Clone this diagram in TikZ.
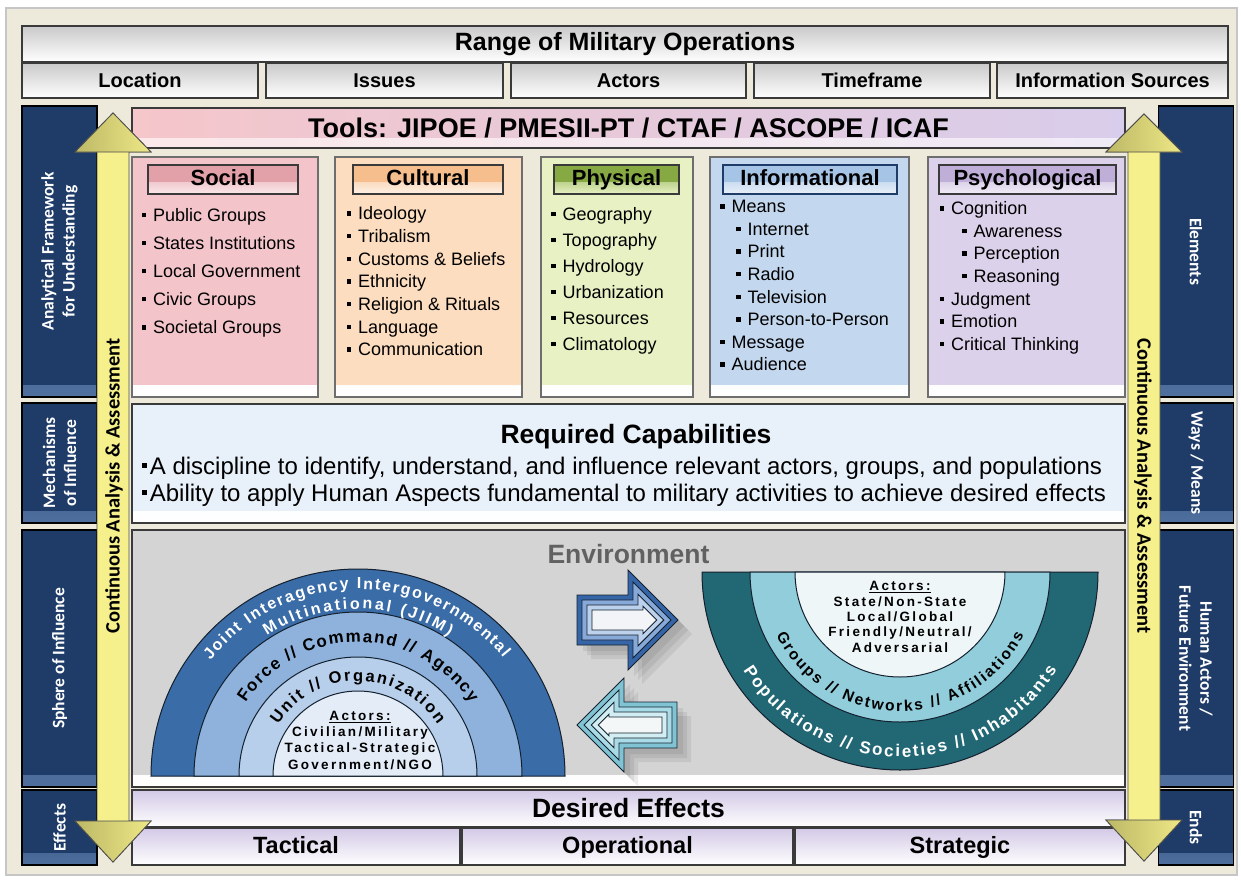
\documentclass[tikz,border=0pt]{standalone}
\usepackage{fontspec}
\setmainfont{Liberation Sans}
\newfontfamily\sidefont{Carlito}
\newfontfamily\actfont{Liberation Sans}[LetterSpace=17]
\usetikzlibrary{decorations.text}

\definecolor{beige}{HTML}{EDEADB}
\definecolor{edge}{HTML}{3A3A3A}
\definecolor{boxedge}{HTML}{6E6E6E}
\definecolor{navy}{HTML}{1F3C69}
\definecolor{navyhi}{HTML}{4F709F}
\definecolor{socfill}{HTML}{F3C5CA}
\definecolor{sochead}{HTML}{E2A1A9}
\definecolor{culfill}{HTML}{FCDDC0}
\definecolor{culhead}{HTML}{F6BE8C}
\definecolor{phyfill}{HTML}{E7F1C3}
\definecolor{phyhead}{HTML}{86A944}
\definecolor{inffill}{HTML}{C3D7EE}
\definecolor{infhead}{HTML}{A6C4E6}
\definecolor{psyfill}{HTML}{DCD1EA}
\definecolor{psyhead}{HTML}{BFAED8}
\definecolor{capfill}{HTML}{E8F0F9}
\definecolor{envfill}{HTML}{D4D4D4}
\definecolor{lavtop}{HTML}{D3C9E6}
\definecolor{toolL}{HTML}{F5C6CA}
\definecolor{toolR}{HTML}{D8CDEB}
\definecolor{yel}{HTML}{F6F08C}
\definecolor{yeldark}{HTML}{BDB866}
\definecolor{jiimA}{HTML}{3A6CA8}
\definecolor{jiimB}{HTML}{8EB2DC}
\definecolor{jiimC}{HTML}{B7CFEA}
\definecolor{jiimD}{HTML}{E4EDF7}
\definecolor{popA}{HTML}{216774}
\definecolor{popB}{HTML}{92CDDB}
\definecolor{popC}{HTML}{EEF6F8}
\definecolor{ringline}{HTML}{14202E}
\definecolor{rarA}{HTML}{3565A6}
\definecolor{rarB}{HTML}{86A9D8}
\definecolor{rarC}{HTML}{BCD1EC}
\definecolor{rarD}{HTML}{F2F4F7}
\definecolor{larA}{HTML}{80C4D4}
\definecolor{larB}{HTML}{A9DBE6}
\definecolor{larC}{HTML}{D2EEF3}
\definecolor{larD}{HTML}{F4F7F8}

\newcommand\sqb{\rule[0.23em]{0.24em}{0.24em}\hspace{0.4em}}
\newcommand\sqc{\rule[0.25em]{0.22em}{0.22em}\hspace{0.12em}}
\newcommand\arcJ{\fontsize{16}{16}\selectfont\bfseries}
\newcommand\arcF{\fontsize{17}{17}\selectfont\bfseries}
\newcommand\arcU{\fontsize{16.5}{16.5}\selectfont\bfseries}
\newcommand\arcP{\fontsize{17}{17}\selectfont\bfseries}
\newcommand\arcG{\fontsize{15.5}{15.5}\selectfont\bfseries}
\newcommand\rightarr[1]{({577+#1},{595+#1}) -- ({628+#1},{595+#1}) -- ({628+#1},{570+2.414*#1}) -- ({678-1.414*#1},620) -- ({628+#1},{670-2.414*#1}) -- ({628+#1},{645-#1}) -- ({577+#1},{645-#1}) -- cycle}
\newcommand\leftarr[1]{({677-#1},{702+#1}) -- ({624-#1},{702+#1}) -- ({624-#1},{678+2.414*#1}) -- ({577+1.414*#1},725) -- ({624-#1},{772-2.414*#1}) -- ({624-#1},{748-#1}) -- ({677-#1},{748-#1}) -- cycle}

\begin{document}
\begin{tikzpicture}[x=1pt,y=-1pt,
  bar/.style 2 args={draw=edge,line width=1.2pt,top color=#1,bottom color=#2,inner sep=0pt},
  bevel/.style 2 args={draw=edge,line width=1.2pt,fill=#1,inner sep=0pt,
    path picture={\shade[top color=#1,bottom color=#2]
      ([yshift=12pt]path picture bounding box.south west) rectangle (path picture bounding box.south east);}},
  catbox/.style={bevel={#1}{white},draw=boxedge,line width=2pt},
  cathead/.style 2 args={bevel={#1}{#2},line width=1.5pt,minimum height=29,text height=15.5pt,text depth=4pt,font=\bfseries\fontsize{22}{22}\selectfont},
  sidebox/.style={bevel={navy}{navyhi},draw=black,minimum width=75},
  sidetxt/.style={inner sep=0pt,text=white,align=center,font=\sidefont\bfseries\fontsize{17.5}{21}\selectfont},
  toplbl/.style={font=\bfseries\fontsize{20}{20}\selectfont},
  item/.style={anchor=west,inner sep=0pt,font=\fontsize{18}{20}\selectfont,text height=13pt,text depth=3.5pt},
  capitem/.style={anchor=west,inner sep=0pt,font=\fontsize{24}{26}\selectfont,text height=17pt,text depth=5pt},
  actor/.style={inner sep=0pt,font=\actfont\bfseries\fontsize{13.5}{15}\selectfont},
]
\fill[white] (0,0) rectangle (1241,880);
\useasboundingbox (0,0) rectangle (1241,880);
\node[fill=beige,draw=gray!45,line width=1.5pt,minimum width=1231,minimum height=867,inner sep=0] (frame) at (621.5,441.5) {};

% range of military operations
\node[bar={gray!42}{white},minimum width=1206,minimum height=36,font=\bfseries\fontsize{25}{25}\selectfont] (rmo) at (625,44) {Range of Military Operations};
\foreach \cx/\w/\t [count=\i] in {140/236/Location,384.5/237/Issues,628.5/235/Actors,872/236/Timeframe,1112.5/231/Information Sources}
  \node[bar={gray!42}{white},minimum width=\w,minimum height=35,toplbl] (rmo\i) at (\cx,80.5) {\t};

% side panels
\foreach \cy/\h/\t [count=\i] in {251.5/291/{Analytical Framework\\for Understanding},463/120/{Mechanisms\\of Influence},658.5/257/{Sphere of Influence},827.5/75/{Effects}}{
  \node[sidebox,minimum height=\h] (lp\i) at (59.5,\cy) {};
  \node[sidetxt,rotate=90] (lt\i) at (lp\i) {\t};
}
\foreach \cy/\h/\t [count=\i] in {251.5/291/{Elements},463/120/{Ways / Means},658.5/257/{Human Actors /\\Future Environment},827.5/75/{Ends}}{
  \node[sidebox,minimum height=\h] (rp\i) at (1196,\cy) {};
  \node[sidetxt,rotate=-90] (rt\i) at (rp\i) {\t};
}

% tools
\node[draw=edge,line width=1.2pt,left color=toolL,right color=toolR,minimum width=993,minimum height=40,inner sep=0,
  font=\bfseries\fontsize{27}{27}\selectfont,
  path picture={\fill[white,opacity=.6] ([yshift=10pt]path picture bounding box.south west) rectangle (path picture bounding box.south east);}]
  (tools) at (628.5,128) {Tools: JIPOE / PMESII-PT / CTAF / ASCOPE / ICAF};

% elements
\node[catbox=socfill,minimum width=186,minimum height=240] (social) at (225,277) {};
\node[catbox=culfill,minimum width=187,minimum height=240] (cultural) at (428.5,277) {};
\node[catbox=phyfill,minimum width=152,minimum height=240] (physical) at (617,277) {};
\node[catbox=inffill,minimum width=199,minimum height=240] (informational) at (809.5,277) {};
\node[catbox=psyfill,minimum width=197,minimum height=240] (psychological) at (1026.5,277) {};

\node[cathead={sochead}{socfill!40},minimum width=150] (socialhd) at (223,179.5) {Social};
\node[cathead={culhead}{culfill!40},minimum width=150] (culturalhd) at (428,179.5) {Cultural};
\node[cathead={phyhead}{phyfill},minimum width=125] (physicalhd) at (616.5,179.5) {Physical};
\node[cathead={infhead}{inffill!40},minimum width=174,draw=navy] (informationalhd) at (810,179.5) {Informational};
\node[cathead={psyhead}{psyfill!40},minimum width=177] (psychologicalhd) at (1027.5,179.5) {Psychological};

\foreach \t [count=\i] in {Public Groups,States Institutions,Local Government,Civic Groups,Societal Groups}
  \node[item] (soc\i) at (141.5,{216.5+28.1*(\i-1)}) {\sqb\t};
\foreach \t [count=\i] in {Ideology,Tribalism,Customs \& Beliefs,Ethnicity,Religion \& Rituals,Language,Communication}
  \node[item] (cul\i) at (346.5,{215+22.7*(\i-1)}) {\sqb\t};
\foreach \t [count=\i] in {Geography,Topography,Hydrology,Urbanization,Resources,Climatology}
  \node[item] (phy\i) at (551,{215.5+26*(\i-1)}) {\sqb\t};
\foreach \lv/\t [count=\i] in {0/Means,1/Internet,1/Print,1/Radio,1/Television,1/Person-to-Person,0/Message,0/Audience}
  \node[item] (inf\i) at ({720+16*\lv},{208+22.6*(\i-1)}) {\sqb\t};
\foreach \lv/\t [count=\i] in {0/Cognition,1/Awareness,1/Perception,1/Reasoning,0/Judgment,0/Emotion,0/Critical Thinking}
  \node[item] (psy\i) at ({939.5+22.5*\lv},{210+22.6*(\i-1)}) {\sqb\t};

% required capabilities
\node[bevel={capfill}{white},minimum width=993,minimum height=119] (reqcap) at (628.5,463.5) {};
\node[inner sep=0,font=\bfseries\fontsize{26.5}{26.5}\selectfont] (reqtitle) at (636,437) {Required Capabilities};
\node[capitem] (req1) at (141.5,468) {\sqc A discipline to identify, understand, and influence relevant actors, groups, and populations};
\node[capitem] (req2) at (141.5,495) {\sqc Ability to apply Human Aspects fundamental to military activities to achieve desired effects};

% environment
\node[bevel={envfill}{white},minimum width=993,minimum height=257] (env) at (628.5,658.5) {};
\node[inner sep=0,text=black!62,font=\bfseries\fontsize{26.5}{26.5}\selectfont] (envtitle) at (628.5,554) {Environment};

% JIIM rings
\coordinate (lc) at (358,776);
\foreach \r/\c in {207pt/jiimA,164pt/jiimB,119pt/jiimC,85pt/jiimD}
  \filldraw[fill=\c,draw=ringline,line width=1pt] ([xshift=-\r]lc) arc[start angle=180,end angle=0,radius=\r] -- cycle;
\path[decorate,decoration={text along path,text align={fit to path},text color=white,text={|\arcJ|Joint Interagency Intergovernmental}}]
  ([shift={(142:187pt)}]lc) arc[start angle=142,end angle=39,radius=187pt];
\path[decorate,decoration={text along path,text align={fit to path},text color=white,text={|\arcJ|Multinational (JIIM)}}]
  ([shift={(123:167pt)}]lc) arc[start angle=123,end angle=57,radius=167pt];
\path[decorate,decoration={text along path,text align={fit to path},text={|\arcF|Force // Command // Agency}}]
  ([shift={(147:134pt)}]lc) arc[start angle=147,end angle=33,radius=134pt];
\path[decorate,decoration={text along path,text align={fit to path},text={|\arcU|Unit // Organization}}]
  ([shift={(147:95pt)}]lc) arc[start angle=147,end angle=33,radius=95pt];
\node[actor] (la0) at (360,717) {\underline{Actors:}};
\node[actor] (la1) at (360,733) {Civilian/Military};
\node[actor] (la2) at (360,749) {Tactical-Strategic};
\node[actor] (la3) at (360,765) {Government/NGO};

% population rings
\coordinate (rc) at (900,572);
\foreach \r/\c in {198pt/popA,150pt/popB,105pt/popC}
  \filldraw[fill=\c,draw=ringline,line width=1pt] ([xshift=-\r]rc) arc[start angle=180,end angle=360,radius=\r] -- cycle;
\path[decorate,decoration={text along path,text align={fit to path},text color=white,text={|\arcP|Populations // Societies // Inhabitants}}]
  ([shift={(212:185pt)}]rc) arc[start angle=212,end angle=328,radius=185pt];
\path[decorate,decoration={text along path,text align={fit to path},text={|\arcG|Groups // Networks // Affiliations}}]
  ([shift={(207:139pt)}]rc) arc[start angle=207,end angle=333,radius=139pt];
\node[actor] (ra0) at (900,587) {\underline{Actors:}};
\node[actor] (ra1) at (900,602) {State/Non-State};
\node[actor] (ra2) at (900,617) {Local/Global};
\node[actor] (ra3) at (900,633) {Friendly/Neutral/};
\node[actor] (ra4) at (900,648) {Adversarial};

% exchange arrows
\foreach \s in {6,10,14}{
  \fill[black,opacity=.07,shift={(\s,\s)}] \rightarr{0};
  \fill[black,opacity=.07,shift={(\s,\s)}] \leftarr{0};
}
\foreach \d/\c in {0/rarA,5/rarB,10/rarC,15/rarD}
  \filldraw[fill=\c,draw=ringline,line width=.9pt] \rightarr{\d};
\foreach \d/\c in {0/larA,5/larB,10/larC,15/larD}
  \filldraw[fill=\c,draw=ringline,line width=.9pt] \leftarr{\d};

% desired effects
\node[bar={lavtop}{white},minimum width=993,minimum height=37,font=\bfseries\fontsize{26.5}{26.5}\selectfont] (deff) at (628.5,808.5) {Desired Effects};
\foreach \cx/\w/\t [count=\i] in {296/328/Tactical,627.5/331/Operational,960/330/Strategic}
  \node[bar={lavtop}{white},minimum width=\w,minimum height=37,text height=17pt,text depth=4pt,font=\bfseries\fontsize{23.5}{23.5}\selectfont] (deff\i) at (\cx,846.5) {\t};

% continuous analysis arrows
\filldraw[fill=yel,draw=black!70,line width=.8pt] (113,113) -- (151,152) -- (129,152) -- (129,821) -- (151,821) -- (113,862) -- (75,821) -- (97,821) -- (97,152) -- (75,152) -- cycle;
\filldraw[fill=yel,draw=black!70,line width=.8pt] (1144,114) -- (1182,152) -- (1160,152) -- (1160,820) -- (1182,820) -- (1144,861) -- (1106,820) -- (1128,820) -- (1128,152) -- (1106,152) -- cycle;
\foreach \cx/\ty/\by in {113/113/152,1144/114/152}
  \shade[left color=yeldark,right color=yel!85!yeldark,draw=black!70,line width=.8pt] (\cx,\ty) -- ({\cx+38},\by) -- ({\cx-38},\by) -- cycle;
\foreach \cx/\ty/\by in {113/862/821,1144/861/820}
  \shade[left color=yeldark,right color=yel!85!yeldark,draw=black!70,line width=.8pt] (\cx,\ty) -- ({\cx+38},\by) -- ({\cx-38},\by) -- cycle;
\node[rotate=90,inner sep=0,font=\sidefont\bfseries\fontsize{20.5}{20.5}\selectfont] (cont1) at (114,486) {Continuous Analysis \& Assessment};
\node[rotate=-90,inner sep=0,font=\sidefont\bfseries\fontsize{20.5}{20.5}\selectfont] (cont2) at (1143,486) {Continuous Analysis \& Assessment};
\end{tikzpicture}
\end{document}
